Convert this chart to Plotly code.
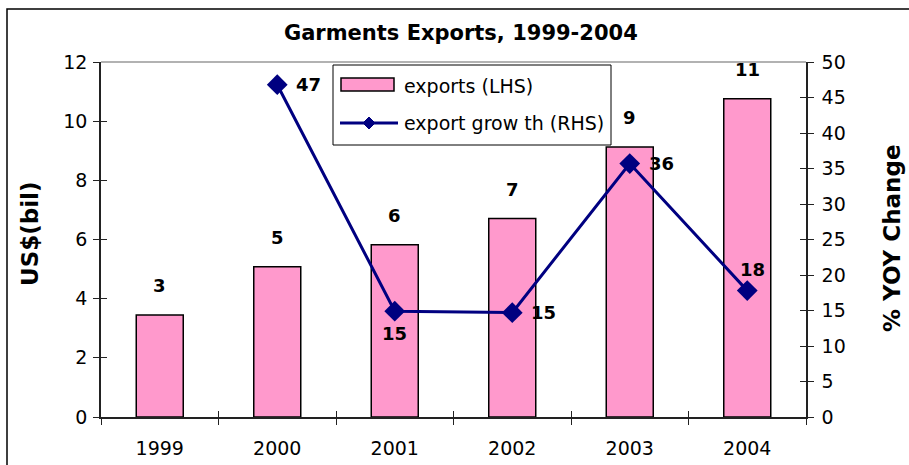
import plotly.graph_objects as go

years = ["1999", "2000", "2001", "2002", "2003", "2004"]
exports = [3.45, 5.08, 5.82, 6.71, 9.13, 10.76]
export_labels = ["3", "5", "6", "7", "9", "11"]
growth_years = ["2000", "2001", "2002", "2003", "2004"]
growth = [46.8, 14.9, 14.7, 35.7, 17.8]
growth_labels = ["47", "15", "15", "36", "18"]
legend_names = ["exports (LHS)", "export grow th (RHS)"]

FONT = "DejaVu Sans"
PINK = "#FF99CC"
NAVY = "#000080"

W, H = 909, 465
L, R, T, B = 101, 806, 62, 417


def px(x):
    return (x - L) / (R - L)


def py(y):
    return (B - y) / (B - T)


fig = go.Figure()
fig.add_trace(go.Bar(
    x=years, y=exports, name=legend_names[0],
    marker=dict(color=PINK, line=dict(color="black", width=1.5)),
    hoverinfo="skip", showlegend=False,
))
fig.add_trace(go.Scatter(
    x=growth_years, y=growth, name=legend_names[1], yaxis="y2",
    mode="lines+markers",
    line=dict(color=NAVY, width=3),
    marker=dict(symbol="diamond", size=16, color=NAVY),
    hoverinfo="skip", showlegend=False,
))
# empty traces so the overlay axes (inner half of crossing ticks) get drawn
fig.add_trace(go.Scatter(x=[], y=[], xaxis="x", yaxis="y3", showlegend=False, hoverinfo="skip"))
fig.add_trace(go.Scatter(x=[], y=[], xaxis="x", yaxis="y4", showlegend=False, hoverinfo="skip"))
fig.add_trace(go.Scatter(x=[], y=[], xaxis="x3", yaxis="y", showlegend=False, hoverinfo="skip"))

lblfont = dict(family=FONT, size=18, color="black", weight="bold")
annotations = []
for i, (v, t) in enumerate(zip(exports, export_labels)):
    annotations.append(dict(x=i, y=v, xref="x", yref="y", text=t, showarrow=False,
                            yanchor="bottom", yshift=17, font=lblfont))
placements = {
    "2000": dict(xanchor="left", yanchor="middle", xshift=17, yshift=0),
    "2001": dict(xanchor="center", yanchor="top", xshift=0, yshift=-10),
    "2002": dict(xanchor="left", yanchor="middle", xshift=17, yshift=0),
    "2003": dict(xanchor="left", yanchor="middle", xshift=17, yshift=0),
    "2004": dict(xanchor="center", yanchor="bottom", xshift=5, yshift=9),
}
for yr, v, t in zip(growth_years, growth, growth_labels):
    p = placements[yr]
    annotations.append(dict(x=years.index(yr), y=v, xref="x", yref="y2", text=t,
                            showarrow=False, font=lblfont, **p))

titlefont = dict(family=FONT, size=23, color="black", weight="bold")
annotations.append(dict(x=px(30), y=py(234), xref="paper", yref="paper", text="US$(bil)",
                        showarrow=False, textangle=-90, xanchor="center", yanchor="middle",
                        font=titlefont))
annotations.append(dict(x=px(892), y=py(238), xref="paper", yref="paper", text="% YOY Change",
                        showarrow=False, textangle=-90, xanchor="center", yanchor="middle",
                        font=titlefont))

# legend (drawn manually to match the wide swatch)
legfont = dict(family=FONT, size=19, color="black")
annotations.append(dict(x=px(402), y=py(86), xref="paper", yref="paper", text=legend_names[0],
                        showarrow=False, xanchor="left", yanchor="middle", font=legfont))
annotations.append(dict(x=px(402), y=py(123), xref="paper", yref="paper", text=legend_names[1],
                        showarrow=False, xanchor="left", yanchor="middle", font=legfont))

dx, dy = 6, 6
diamond = (f"M {px(369 - dx)} {py(123)} L {px(369)} {py(123 - dy)} "
           f"L {px(369 + dx)} {py(123)} L {px(369)} {py(123 + dy)} Z")

shapes = [
    dict(type="line", xref="paper", yref="paper", x0=0, x1=1, y0=1, y1=1,
         line=dict(color="#999999", width=1.5), layer="below"),
    dict(type="rect", xref="paper", yref="paper", x0=px(7), x1=px(940),
         y0=py(500), y1=py(9), line=dict(color="black", width=1.5),
         fillcolor="rgba(0,0,0,0)", layer="below"),
    dict(type="rect", xref="paper", yref="paper", x0=px(333), x1=px(611),
         y0=py(145), y1=py(65), line=dict(color="black", width=1),
         fillcolor="white", layer="above"),
    dict(type="rect", xref="paper", yref="paper", x0=px(341), x1=px(394),
         y0=py(91), y1=py(78), line=dict(color="black", width=1.5),
         fillcolor=PINK, layer="above"),
    dict(type="line", xref="paper", yref="paper", x0=px(340), x1=px(398),
         y0=py(123), y1=py(123), line=dict(color=NAVY, width=3), layer="above"),
    dict(type="path", xref="paper", yref="paper", path=diamond,
         line=dict(color=NAVY, width=1), fillcolor=NAVY, layer="above"),
]

tickfont = dict(family=FONT, size=19, color="black")
common = dict(automargin=False, showgrid=False, zeroline=False, tickcolor="#222", ticklen=6)
fig.update_layout(
    width=W, height=H,
    margin=dict(l=L, r=W - R, t=T, b=H - B, autoexpand=False),
    paper_bgcolor="white", plot_bgcolor="white",
    font=dict(family=FONT, size=19, color="black"),
    title=dict(text="Garments Exports, 1999-2004", x=464 / W, xanchor="center",
               y=1 - 33 / H, yanchor="middle", xref="paper",
               font=dict(family=FONT, size=21, color="black", weight="bold")),
    bargap=0.6,
    showlegend=False,
    xaxis=dict(type="category", range=[-0.5, 5.5], tickson="boundaries", ticks="outside",
               showline=True, linecolor="#222", linewidth=1.5,
               tickfont=tickfont, ticklabelstandoff=13, **common),
    xaxis3=dict(overlaying="x", anchor="y", range=[-0.5, 5.5], tickmode="array",
                tickvals=[-0.5, 0.5, 1.5, 2.5, 3.5, 4.5, 5.5], ticks="inside",
                showticklabels=False, showline=False, side="bottom", **common),
    yaxis=dict(range=[0, 12], dtick=2, ticks="outside",
               showline=True, linecolor="#222", linewidth=1.5,
               tickfont=tickfont, ticklabelstandoff=2, **common),
    yaxis3=dict(overlaying="y", anchor="x", range=[0, 12], dtick=2, ticks="inside",
                showticklabels=False, showline=False, **common),
    yaxis2=dict(overlaying="y", side="right", anchor="x", range=[0, 50], dtick=5,
                ticks="outside", showline=True, linecolor="#222",
                linewidth=1.5, tickfont=tickfont, ticklabelstandoff=4, **common),
    yaxis4=dict(overlaying="y", side="right", anchor="x", range=[0, 50], dtick=5,
                ticks="inside", showticklabels=False, showline=False, **common),
    annotations=annotations,
    shapes=shapes,
)
fig.write_html("out.html", config={"displayModeBar": False},
               post_script="document.body.style.margin='0px';")
